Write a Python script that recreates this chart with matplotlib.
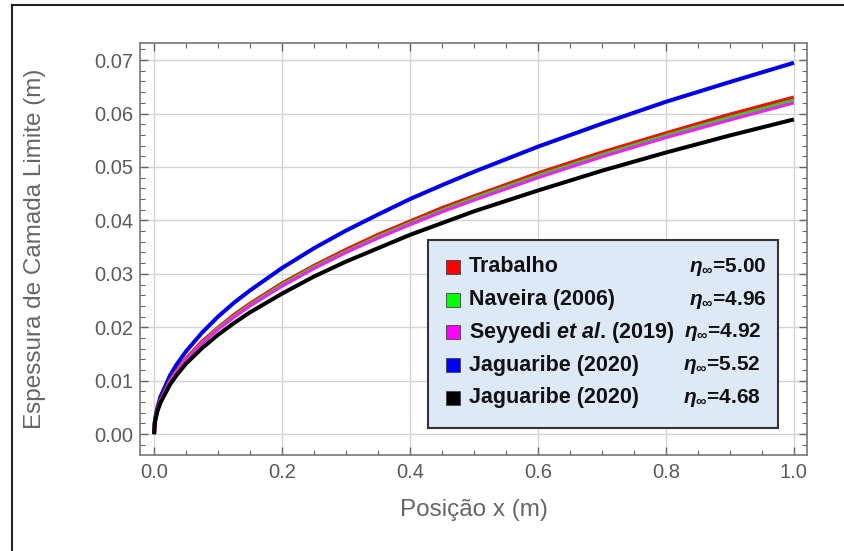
import matplotlib
matplotlib.use("Agg")
import matplotlib.pyplot as plt
from matplotlib.patches import Rectangle
from matplotlib.lines import Line2D
from matplotlib.ticker import MultipleLocator, FormatStrFormatter

plt.rcParams['font.family'] = ['Liberation Sans', 'DejaVu Sans']
plt.rcParams['mathtext.fontset'] = 'custom'
plt.rcParams['mathtext.it'] = 'Liberation Sans:italic:bold'
plt.rcParams['mathtext.rm'] = 'Liberation Sans:bold'
plt.rcParams['mathtext.bf'] = 'Liberation Sans:bold'

# ---- data ----
x = [0.0, 0.001, 0.002, 0.005, 0.01, 0.025, 0.035, 0.05, 0.075, 0.1, 0.125, 0.15,
     0.2, 0.25, 0.3, 0.35, 0.4, 0.45, 0.5, 0.6, 0.7, 0.8, 0.9, 1.0]
jaguaribe_552 = [0, 0.0022, 0.0031, 0.0049, 0.0070, 0.0110, 0.0130, 0.0155, 0.0190, 0.0220,
                 0.0246, 0.0269, 0.0311, 0.0348, 0.0381, 0.0411, 0.0440, 0.0466, 0.0491,
                 0.0538, 0.0581, 0.0622, 0.0659, 0.0695]
trabalho = [0, 0.0020, 0.0028, 0.0045, 0.0063, 0.0100, 0.0118, 0.0141, 0.0173, 0.0199,
            0.0223, 0.0244, 0.0282, 0.0315, 0.0345, 0.0373, 0.0398, 0.0423, 0.0445,
            0.0488, 0.0527, 0.0563, 0.0598, 0.0630]
naveira = [0, 0.0020, 0.0028, 0.0044, 0.0062, 0.0099, 0.0117, 0.0140, 0.0171, 0.0198,
           0.0221, 0.0242, 0.0280, 0.0313, 0.0342, 0.0370, 0.0395, 0.0419, 0.0442,
           0.0484, 0.0523, 0.0559, 0.0593, 0.0625]
seyyedi = [0, 0.0020, 0.0028, 0.0044, 0.0062, 0.0098, 0.0116, 0.0139, 0.0170, 0.0196,
           0.0219, 0.0240, 0.0277, 0.0310, 0.0340, 0.0367, 0.0392, 0.0416, 0.0438,
           0.0480, 0.0519, 0.0555, 0.0588, 0.0620]
jaguaribe_468 = [0, 0.0019, 0.0026, 0.0042, 0.0059, 0.0093, 0.0110, 0.0132, 0.0161, 0.0186,
                 0.0208, 0.0228, 0.0263, 0.0295, 0.0323, 0.0348, 0.0373, 0.0395, 0.0417,
                 0.0456, 0.0493, 0.0527, 0.0559, 0.0589]

legend_labels = ['Trabalho', 'Naveira (2006)', r'Seyyedi $et\ al$. (2019)',
                 'Jaguaribe (2020)', 'Jaguaribe (2020)']
eta_labels = ['5.00', '4.96', '4.92', '5.52', '4.68']
legend_colors = ['#ff0000', '#00ff00', '#ff00ff', '#0000ff', '#000000']

# ---- figure ----
fig = plt.figure(figsize=(8.44, 5.51), dpi=100)
ax = fig.add_axes([140/844, 1 - 455/551, (807-140)/844, (455-43)/551])

lw = 2.9
ax.plot(x, jaguaribe_552, color='#0000ee', lw=lw, solid_capstyle='butt', zorder=3)
ax.plot(x, trabalho, color='#ee1100', lw=lw, solid_capstyle='butt', zorder=3)
ax.plot(x, naveira, color='#33cc33', lw=lw - 0.6, solid_capstyle='butt', zorder=3)
ax.plot(x, seyyedi, color='#ee22ee', lw=lw - 0.6, solid_capstyle='butt', zorder=3)
ax.plot(x, jaguaribe_468, color='#000000', lw=lw, solid_capstyle='butt', zorder=3)

ax.set_xlim(-0.022, 1.0205)
ax.set_ylim(-0.0039, 0.0732)
ax.xaxis.set_major_locator(MultipleLocator(0.2))
ax.xaxis.set_minor_locator(MultipleLocator(0.05))
ax.yaxis.set_major_locator(MultipleLocator(0.01))
ax.yaxis.set_minor_locator(MultipleLocator(0.002))
ax.xaxis.set_major_formatter(FormatStrFormatter('%.1f'))
ax.yaxis.set_major_formatter(FormatStrFormatter('%.2f'))

tc = '#666666'
ax.tick_params(which='both', direction='in', top=True, right=True, colors=tc,
               labelcolor='#5a5a5a')
ax.tick_params(which='major', length=6, width=1.0, labelsize=14.5)
ax.tick_params(axis='x', which='major', pad=6)
ax.tick_params(axis='y', which='major', pad=5)
ax.tick_params(which='minor', length=3.5, width=0.8)
for s in ax.spines.values():
    s.set_color('#777777')
    s.set_linewidth(1.2)
ax.grid(True, which='major', color='#d4d4d4', lw=1.0, zorder=0)
ax.set_axisbelow(True)

ax.set_xlabel('Posição x (m)', fontsize=17.5, color='#666666')
ax.set_ylabel('Espessura de Camada Limite (m)', fontsize=17.5, color='#666666')
ax.xaxis.set_label_coords(0.5, (455 - 499) / 412)
ax.yaxis.set_label_coords((46 - 140) / 667, 0.5)

# ---- legend (manual) ----
def px2ax(px, py):
    return ax.transAxes.inverted().transform(fig.transFigure.transform((px/844, 1 - py/551)))

bx0, by0 = px2ax(428, 428)
bx1, by1 = px2ax(778, 240)
ax.add_patch(Rectangle((bx0, by0), bx1 - bx0, by1 - by0, transform=ax.transAxes,
                       facecolor='#dde9f7', edgecolor='#333333', lw=1.5, zorder=5))
rows_y = [267, 300, 332, 365, 398]
right_x = [767, 767, 762, 761, 761]
for lab, eta, col, ry, rx in zip(legend_labels, eta_labels, legend_colors, rows_y, right_x):
    sx, sy = px2ax(446, ry + 7)
    sx2, sy2 = px2ax(460, ry - 7)
    ax.add_patch(Rectangle((sx, sy), sx2 - sx, sy2 - sy, transform=ax.transAxes,
                           facecolor=col, edgecolor='#444444', lw=0.6, zorder=6))
    tx, ty = px2ax(469, ry)
    ax.text(tx, ty, lab, transform=ax.transAxes, fontsize=15.5, fontweight='bold',
            color='#111111', va='center', ha='left', zorder=7)
    ex, ey = px2ax(rx, ry)
    ax.text(ex, ey, r'$\eta_{\infty}$=' + eta, transform=ax.transAxes, fontsize=15,
            fontweight='bold', color='#111111', va='center', ha='right', zorder=7)

# ---- outer frame ----
fig.add_artist(Line2D([12/844, 12/844], [0, 1 - 5/551], transform=fig.transFigure,
                      color='#222222', lw=1.5))
fig.add_artist(Line2D([12/844, 1], [1 - 5/551, 1 - 5/551], transform=fig.transFigure,
                      color='#222222', lw=1.5))

fig.savefig('out.png', dpi=100)
